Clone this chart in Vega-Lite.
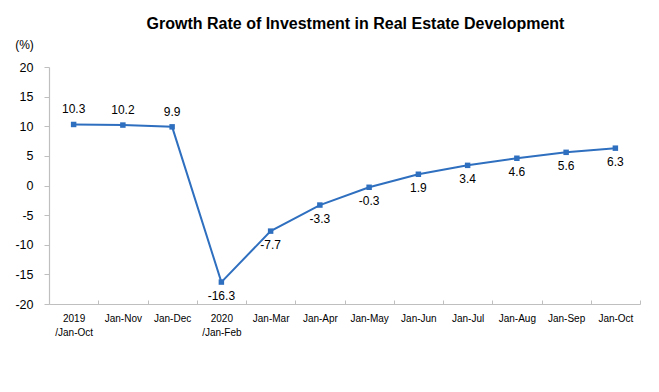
{
  "$schema": "https://vega.github.io/schema/vega-lite/v6.json",
  "width": 591,
  "height": 237,
  "autosize": {"type": "none"},
  "padding": {"left": 49, "top": 67, "right": 19, "bottom": 88},
  "background": "white",
  "title": {
    "text": "Growth Rate of Investment in Real Estate Development",
    "font": "Liberation Sans",
    "fontSize": 16,
    "fontWeight": "bold",
    "color": "#000000",
    "anchor": "middle",
    "dx": 11,
    "offset": 6
  },
  "config": {
    "view": {"stroke": null},
    "font": "Liberation Sans"
  },
  "data": {
    "values": [
      {"period": "2019 /Jan-Oct", "value": 10.3},
      {"period": "Jan-Nov", "value": 10.2},
      {"period": "Jan-Dec", "value": 9.9},
      {"period": "2020 /Jan-Feb", "value": -16.3},
      {"period": "Jan-Mar", "value": -7.7},
      {"period": "Jan-Apr", "value": -3.3},
      {"period": "Jan-May", "value": -0.3},
      {"period": "Jan-Jun", "value": 1.9},
      {"period": "Jan-Jul", "value": 3.4},
      {"period": "Jan-Aug", "value": 4.6},
      {"period": "Jan-Sep", "value": 5.6},
      {"period": "Jan-Oct", "value": 6.3}
    ]
  },
  "transform": [
    {"calculate": "replace(format(datum.value, '.1f'), '\u2212', '-')", "as": "label"}
  ],
  "encoding": {
    "x": {
      "field": "period",
      "type": "nominal",
      "sort": null,
      "scale": {"paddingInner": 0, "paddingOuter": 0},
      "axis": {
        "title": null,
        "labelAngle": 0,
        "labelExpr": "datum.value ? split(datum.value, ' ') : ''",
        "labelFont": "Liberation Sans",
        "labelFontSize": 10,
        "labelColor": "#000000",
        "labelLineHeight": 14,
        "labelPadding": 13,
        "labelBaseline": "top",
        "tickBand": "extent",
        "tickSize": -4,
        "tickColor": "#BFBFBF",
        "domainColor": "#BFBFBF",
        "domainWidth": 1.2
      }
    },
    "y": {
      "field": "value",
      "type": "quantitative",
      "scale": {"domain": [-20, 20], "nice": false},
      "axis": {
        "values": [-20, -15, -10, -5, 0, 5, 10, 15, 20],
        "labelExpr": "replace(datum.label, '\u2212', '-')",
        "grid": false,
        "title": "(%)",
        "titleAngle": 0,
        "titleX": -25,
        "titleY": -16,
        "titleAlign": "center",
        "titleBaseline": "bottom",
        "titleFont": "Liberation Sans",
        "titleFontSize": 12,
        "titleFontWeight": "normal",
        "titleColor": "#000000",
        "labelFont": "Liberation Sans",
        "labelFontSize": 12.5,
        "labelColor": "#000000",
        "labelPadding": 11,
        "tickSize": 5,
        "tickColor": "#BFBFBF",
        "domainColor": "#BFBFBF",
        "domainWidth": 1.2
      }
    }
  },
  "layer": [
    {
      "mark": {"type": "line", "color": "#2F6FBF", "strokeWidth": 2}
    },
    {
      "mark": {"type": "point", "shape": "square", "filled": true, "size": 30, "color": "#2F6FBF", "opacity": 1}
    },
    {
      "transform": [{"filter": "datum.value > 9"}],
      "mark": {"type": "text", "dy": -15, "fontSize": 12, "color": "#000000", "font": "Liberation Sans"},
      "encoding": {"text": {"field": "label", "type": "nominal"}}
    },
    {
      "transform": [{"filter": "datum.value <= 9"}],
      "mark": {"type": "text", "dy": 14, "fontSize": 12, "color": "#000000", "font": "Liberation Sans"},
      "encoding": {"text": {"field": "label", "type": "nominal"}}
    }
  ]
}
